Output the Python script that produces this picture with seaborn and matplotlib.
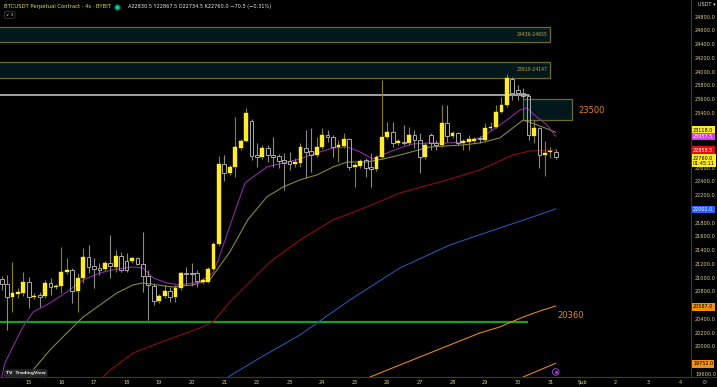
import numpy as np
import pandas as pd
import seaborn as sns
import matplotlib.pyplot as plt
import matplotlib.dates as mdates
from matplotlib.patches import Rectangle

sns.set_theme(style="dark", rc={"axes.facecolor": "black", "figure.facecolor": "black"})
plt.rcParams['font.family'] = ['DejaVu Sans']

# 4h candles, BTCUSDT (Bybit), 14 Jan 04:00 -> 31 Jan 04:00
times = pd.date_range("2023-01-14 04:00", periods=103, freq="4h")
opens = [20980, 20907, 20718, 20762, 20776, 20936, 20713, 20747, 20732, 20922,
         20859, 20878, 21078, 21111, 20805, 20995, 21300, 21169, 21140, 21126,
         21213, 21155, 21315, 21242, 21247, 21286, 21198, 21024, 20878, 20659,
         20732, 20805, 20718, 20849, 21068, 21068, 21068, 20936, 20936, 21126,
         21490, 22655, 22524, 22611, 22888, 22990, 23282, 22786, 22757, 22888,
         22786, 22772, 22714, 22699, 22655, 22670, 22888, 22837, 22786, 22903,
         23078, 23048, 22903, 22917, 23019, 22611, 22626, 22714, 22611, 22582,
         22757, 23048, 23121, 22961, 22980, 22957, 23078, 23005, 22757, 23078,
         22961, 22932, 23257, 23063, 23111, 22957, 22976, 22990, 23038, 23005,
         23175, 23198, 23417, 23514, 23893, 23733, 23694, 23646, 23067, 23175,
         22782, 22823, 22830.5]
highs = [21024, 21038, 21228, 20849, 21082, 21009, 20776, 20791, 20966, 20995,
         20907, 21446, 21286, 21140, 21068, 21432, 21475, 21286, 21213, 21242,
         21621, 21403, 21373, 21359, 21300, 21300, 21665, 21111, 20922, 20762,
         20893, 20863, 20893, 21082, 21155, 21213, 21111, 20995, 21155, 21519,
         22772, 22786, 22640, 23340, 23019, 23471, 23311, 22961, 22932, 22932,
         23048, 22801, 22815, 22830, 22742, 22961, 23150, 23179, 23048, 23179,
         23150, 23078, 23005, 23107, 23034, 22670, 22728, 22742, 22815, 22786,
         23879, 23267, 23267, 23019, 23223, 23194, 23150, 23107, 22961, 23107,
         23005, 23514, 23514, 23136, 23125, 23019, 23078, 23048, 23063, 23252,
         23271, 23514, 23635, 23966, 23922, 23806, 23762, 23675, 23296, 23194,
         22990, 22907, 22867.5]
lows = [20820, 20237, 20499, 20703, 20732, 20557, 20688, 20572, 20703, 20747,
        20834, 20776, 21053, 20630, 20499, 20922, 21068, 20849, 21038, 21097,
        20995, 21082, 21082, 21082, 21213, 21184, 20791, 20383, 20601, 20630,
        20703, 20645, 20645, 20820, 20893, 20878, 20863, 20907, 20922, 21111,
        21461, 22407, 22495, 22466, 22859, 22976, 22714, 22611, 22728, 22684,
        22611, 22597, 22277, 22568, 22611, 22611, 22451, 22539, 22757, 22874,
        22976, 22757, 22684, 22888, 22568, 22320, 22597, 22466, 22320, 22553,
        22728, 23019, 22903, 22932, 22932, 22932, 22888, 22524, 22728, 22859,
        22859, 22903, 22976, 23034, 22932, 22859, 22859, 22961, 22961, 22976,
        23150, 23179, 23398, 23485, 23588, 23588, 23602, 23005, 22961, 22597,
        22480, 22738, 22734.5]
closes = [20907, 20718, 20776, 20791, 20936, 20718, 20737, 20718, 20922, 20863,
          20882, 21082, 21111, 20805, 20995, 21300, 21155, 21126, 21111, 21213,
          21169, 21315, 21111, 21111, 21281, 21198, 21024, 20893, 20659, 20732,
          20805, 20718, 20849, 21068, 21053, 21053, 20951, 20966, 21126, 21490,
          22655, 22524, 22611, 22903, 22990, 23398, 22772, 22757, 22888, 22786,
          22757, 22699, 22670, 22655, 22684, 22903, 22830, 22786, 22903, 23078,
          23048, 22903, 22932, 23019, 22611, 22640, 22699, 22597, 22582, 22757,
          23048, 23121, 22961, 22990, 22957, 23078, 23005, 22757, 22932, 22961,
          22932, 23257, 23063, 23102, 22957, 22994, 23015, 23015, 23015, 23184,
          23198, 23417, 23514, 23908, 23689, 23685, 23646, 23078, 23175, 22786,
          22820, 22837, 22760.0]

# moving averages (bar index, price)
ma_purple_bar = [-0.1, 0.6, 3.9, 5.8, 8.9, 12.0, 15.0, 18.1, 21.2, 24.2, 26.0, 27.9, 30.4,
                 32.8, 36.5, 38.9, 40.0, 42.4, 44.8, 48.8, 51.8, 54.9, 58.0, 61.0, 63.6,
                 66.0, 68.3, 70.9, 73.3, 75.7, 78.8, 82.0, 84.9, 88.0, 90.4, 93.0, 95.4,
                 96.7, 98.5, 100.4, 102.0]
ma_purple_val = [19509, 19756, 20281, 20499, 20630, 20791, 20966, 21068, 21126, 21155, 21140,
                 20995, 20922, 20893, 20936, 21068, 21286, 21840, 22379, 22611, 22670, 22728,
                 22815, 22888, 22903, 22830, 22728, 22815, 22888, 22947, 22961, 22961, 22976,
                 23034, 23150, 23296, 23442, 23471, 23340, 23223, 23057.5]
ma_olive_bar = [4.8, 5.8, 8.9, 12.0, 15.0, 18.1, 21.2, 24.2, 26.0, 28.6, 31.5, 35.2, 38.3,
                42.0, 45.3, 48.8, 51.8, 54.9, 58.0, 61.0, 63.6, 67.2, 70.2, 73.3, 78.8,
                84.9, 88.0, 91.7, 96.0, 99.1, 102.0]
ma_olive_val = [19509, 19655, 19946, 20193, 20426, 20601, 20776, 20893, 20922, 20893, 20863,
                20893, 20966, 21373, 21840, 22175, 22320, 22423, 22495, 22611, 22684, 22684,
                22728, 22786, 22903, 22932, 22961, 23034, 23296, 23209, 23118.0]
ma_red_bar = [18.7, 20.0, 24.2, 30.4, 36.5, 38.9, 42.0, 49.4, 54.9, 61.0, 67.2, 73.3, 82.0,
              88.0, 94.1, 97.2, 102.0]
ma_red_val = [19552, 19655, 19902, 20091, 20266, 20354, 20645, 21228, 21548, 21840, 22029,
              22233, 22423, 22568, 22786, 22844, 22858.5]
ma_blue_bar = [41.7, 47.5, 54.9, 64.1, 73.3, 82.5, 91.7, 97.2, 102.0]
ma_blue_val = [19552, 19829, 20164, 20674, 21140, 21475, 21723, 21869, 22001.0]
ma_orange_bar = [67.8, 77.0, 88.0, 91.7, 96.0, 99.1, 102.0]
ma_orange_val = [19552, 19844, 20193, 20281, 20426, 20514, 20587.0]
ma_orange2_bar = [96.0, 102.0]
ma_orange2_val = [19552, 19752.0]

zones = [(24436, 24655), (23910, 24147)]
zone_tag = ["24436-24655", "23910-24147"]
target_zone = (23297, 23598)
support = 20360
resistance = 23660

price_ticks = [24800, 24600, 24400, 24200, 24000, 23800, 23600, 23400, 22600, 22400, 22200,
               21800, 21600, 21400, 21200, 21000, 20800, 20400, 20200, 20000, 19600]
day_ticks = pd.date_range("2023-01-15", "2023-02-04", freq="D")
day_labels = [str(d.day) if d.day != 1 else "Şub" for d in day_ticks]


def bar_time(k):
    return times[0] + pd.to_timedelta(np.asarray(k, dtype=float) * 4, unit="h")


YEL = "#ffec2a"
YEL_WICK = "#8c8120"
HOL = "#a9a9a9"
TXT = "#ddd38a"

fig = plt.figure(figsize=(7.17, 3.87), dpi=100)
fig.patch.set_facecolor("black")
ax = fig.add_axes([0, 10 / 387, 691 / 717, 377 / 387])
ax.set_facecolor("black")

x_left = mdates.date2num(bar_time(-0.3))
x_right = mdates.date2num(bar_time(126.9))

# zones
for (lo, hi), tag in zip(zones, zone_tag):
    x1 = mdates.date2num(bar_time(100.9))
    ax.add_patch(Rectangle((x_left - 1, lo), x1 - x_left + 1, hi - lo,
                           facecolor="#03181d", edgecolor="#6e6b1c", linewidth=0.9, zorder=1))
    ax.text(bar_time(100.5), (lo + hi) / 2, tag, color="#c9a33a", fontsize=3.3,
            ha="right", va="center", zorder=2)
tx0 = mdates.date2num(bar_time(95.9))
tx1 = mdates.date2num(bar_time(105.0))
ax.add_patch(Rectangle((tx0, target_zone[0]), tx1 - tx0, target_zone[1] - target_zone[0],
                       facecolor="#03181d", edgecolor="#6e6b1c", linewidth=0.9, zorder=1))
ax.text(bar_time(106.1), 23440, "23500", color="#e58a12", fontsize=6, ha="left", va="center")

ax.hlines(resistance, x_left - 1, mdates.date2num(bar_time(97.0)), color="#cfcfcf", linewidth=1.1, zorder=2)
ax.hlines(support, x_left - 1, mdates.date2num(bar_time(96.9)), color="#14a11e", linewidth=1.6, zorder=2)
ax.text(bar_time(102.3), 20450, "20360", color="#e58a12", fontsize=6, ha="left", va="center")

# moving averages
ma_specs = [
    (ma_orange2_bar, ma_orange2_val, "#e0860f"),
    (ma_orange_bar, ma_orange_val, "#e0860f"),
    (ma_blue_bar, ma_blue_val, "#2455ab"),
    (ma_red_bar, ma_red_val, "#8e0c0c"),
    (ma_olive_bar, ma_olive_val, "#8a853c"),
    (ma_purple_bar, ma_purple_val, "#8a2aa3"),
]
for bars, vals, col in ma_specs:
    df_ma = pd.DataFrame({"t": bar_time(bars), "v": vals})
    sns.lineplot(data=df_ma, x="t", y="v", ax=ax, color=col, linewidth=0.8,
                 sort=False, errorbar=None, zorder=3)

# candles
o = np.array(opens); h = np.array(highs); l = np.array(lows); c = np.array(closes)
up = c >= o
top = np.maximum(o, c)
bot = np.minimum(o, c)
wick_col = np.where(up, YEL_WICK, "#8a8a8a")
ax.vlines(times, top, h, colors=wick_col, linewidth=0.8, zorder=4)
ax.vlines(times, l, bot, colors=wick_col, linewidth=0.8, zorder=4)
w = 0.7 * 4 / 24
ax.bar(times[up], (top - bot)[up] + 2, bottom=bot[up], width=w, color=YEL,
       edgecolor=YEL, linewidth=0.3, zorder=5)
ax.bar(times[~up], (top - bot)[~up] + 2, bottom=bot[~up], width=w, fill=False,
       edgecolor=HOL, linewidth=0.7, zorder=5)

ax.set_xlim(x_left, x_right)
ax.set_ylim(19552, 25044)
ax.set_xlabel("")
ax.set_ylabel("")

ax.yaxis.tick_right()
ax.set_yticks(price_ticks)
ax.set_yticklabels([f"{v:.1f}" for v in price_ticks])
ax.set_xticks(day_ticks)
ax.set_xticklabels(day_labels)
ax.tick_params(axis="y", length=0, pad=3, labelsize=3.6, labelcolor=TXT)
ax.tick_params(axis="x", length=0, pad=2.2, labelsize=3.6, labelcolor=TXT)
ax.grid(False)
for side in ["left", "top"]:
    ax.spines[side].set_visible(False)
for side in ["right", "bottom"]:
    ax.spines[side].set_color("#3d3b17")
    ax.spines[side].set_linewidth(0.8)

# price tags on the scale
tags = [
    (23150, "23118.0", "#ffec2a", "black"),
    (23055, "23057.5", "#d33fe8", "white"),
    (22857, "22858.5", "#e01010", "white"),
    (22705, "22760.0\n01:45:11", "#ffec2a", "black"),
    (21995, "22001.0", "#2962ff", "white"),
    (20572, "20587.0", "#f5900f", "black"),
    (19742, "19752.0", "#f5900f", "black"),
]
for yv, txt, bg, fg in tags:
    ax.annotate(txt, xy=(1.003, yv), xycoords=("axes fraction", "data"), fontsize=3.5,
                color=fg, ha="left", va="center", linespacing=1.0, annotation_clip=False,
                bbox=dict(boxstyle="square,pad=0.25", facecolor=bg, edgecolor="none"))

fig.text(698 / 717, 1 - 5 / 387, "USDT ▾", color="#e0e0e0", fontsize=3.6, va="center")
fig.text(704 / 717, 5 / 387, "⚙", color="#9a9a9a", fontsize=4.5, ha="center", va="center")
fig.lines.append(plt.Line2D([0, 1], [10 / 387, 10 / 387], transform=fig.transFigure,
                            color="#3d3b17", linewidth=0.8))

# header
fig.text(4 / 717, 1 - 6.5 / 387, "BTCUSDT Perpetual Contract · 4s · BYBIT",
         color="#e6d74a", fontsize=3.8, va="center")
fig.text(128 / 717, 1 - 6.5 / 387, "A22830.5 Y22867.5 D22734.5 K22760.0 −70.5 (−0.31%)",
         color="#e8e8e8", fontsize=3.6, va="center")
ax.scatter([117 / 717], [1 - 6.5 / 387], transform=fig.transFigure, s=14,
           color="#0b4f45", clip_on=False, zorder=10)
ax.scatter([117 / 717], [1 - 6.5 / 387], transform=fig.transFigure, s=4,
           color="#17c79f", clip_on=False, zorder=11)
fig.text(6 / 717, 1 - 15 / 387, "∨ 3", color="#d0d0d0", fontsize=3.2, va="center",
         bbox=dict(boxstyle="round,pad=0.35", facecolor="black", edgecolor="#444444", linewidth=0.5))

# footer badges
fig.text(6 / 717, 1 - 373 / 387, "TV  TradingView", color="#e0e0e0", fontsize=3.2,
         va="center", fontweight="bold",
         bbox=dict(boxstyle="round,pad=0.4", facecolor="#262626", edgecolor="none"))
ax.scatter([bar_time(102)], [19625], s=22, facecolor="none", edgecolor="#8e3bb8",
           linewidth=0.8, zorder=8, clip_on=False)
ax.scatter([bar_time(102)], [19625], s=2, color="#8e3bb8", zorder=8, clip_on=False)

fig.savefig("out.png", dpi=100, facecolor="black")
